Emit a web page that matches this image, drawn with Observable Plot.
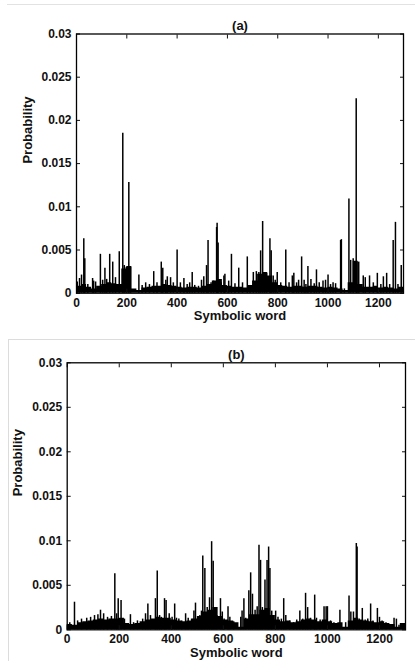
<!DOCTYPE html>
<html><head><meta charset="utf-8">
<script src="https://cdn.jsdelivr.net/npm/d3@7"></script>
<script src="https://cdn.jsdelivr.net/npm/@observablehq/plot@0.6"></script>
<style>
html,body{margin:0;padding:0;background:#fff;width:415px;height:661px;overflow:hidden;position:relative}
#a{position:absolute;left:0;top:0}
#b{position:absolute;left:0;top:339px}
.line-top{position:absolute;left:7px;top:4px;width:408px;height:0;border-top:1px solid #e2e2e2}
.box-b{position:absolute;left:8px;top:339px;width:407px;height:322px;border-top:1px solid #dcdcdc;border-left:1px solid #dcdcdc;box-sizing:border-box}
</style></head><body>
<div class="line-top"></div>
<div class="box-b"></div>
<div id="a"></div>
<div id="b"></div>
<script>
const xTicks = [0, 200, 400, 600, 800, 1000, 1200];
const xTickLabels = ["0", "200", "400", "600", "800", "1000", "1200"];
const yTicks = [0, 0.005, 0.01, 0.015, 0.02, 0.025, 0.03];
const yTickLabels = ["0", "0.005", "0.01", "0.015", "0.02", "0.025", "0.03"];

// background "floor" of the dense bars, read every 20 symbolic words
const baseX = [0,20,40,60,80,100,120,140,160,180,200,220,240,260,280,300,320,340,360,380,400,420,440,460,480,500,520,540,560,580,600,620,640,660,680,700,720,740,760,780,800,820,840,860,880,900,920,940,960,980,1000,1020,1040,1060,1080,1100,1120,1140,1160,1180,1200,1220,1240,1260,1280,1300];

const baseA = [0.0008,0.0010,0.0007,0.0005,0.0008,0.0010,0.0012,0.0011,0.0010,0.0028,0.0031,0.0005,0.0003,0.0006,0.0007,0.0008,0.0008,0.0010,0.0009,0.0008,0.0007,0.0006,0.0007,0.0007,0.0006,0.0008,0.0010,0.0014,0.0016,0.0009,0.0008,0.0007,0.0007,0.0006,0.0009,0.0014,0.0022,0.0024,0.0020,0.0012,0.0009,0.0008,0.0007,0.0008,0.0008,0.0007,0.0008,0.0008,0.0007,0.0006,0.0007,0.0006,0.0005,0.0003,0.0012,0.0037,0.0010,0.0007,0.0007,0.0008,0.0006,0.0007,0.0006,0.0005,0.0007,0.0007];

const spikeAX = [3,12,20,29,33,45,64,68,76,95,104,113,120,132,144,155,170,184,190,198,208,215,248,261,275,290,307,320,337,343,355,361,374,385,400,413,427,440,450,460,470,485,497,506,517,523,535,545,557,559,563,575,586,590,605,616,630,645,660,679,690,703,715,725,732,740,748,756,769,774,782,790,798,812,832,845,858,864,875,883,895,905,912,920,932,945,954,965,980,990,1000,1010,1020,1030,1050,1053,1065,1083,1090,1100,1112,1115,1122,1140,1148,1165,1180,1196,1210,1220,1233,1245,1259,1268,1278,1291];
const spikeAY = [0.0013,0.0017,0.0021,0.0063,0.0040,0.0010,0.0017,0.0014,0.0013,0.0045,0.0015,0.0029,0.0016,0.0045,0.0036,0.0018,0.0048,0.0185,0.0032,0.0030,0.0128,0.0030,0.0021,0.0009,0.0012,0.0010,0.0025,0.0012,0.0036,0.0029,0.0015,0.0019,0.0018,0.0012,0.0050,0.0012,0.0017,0.0010,0.0012,0.0024,0.0009,0.0008,0.0015,0.0019,0.0032,0.0061,0.0012,0.0014,0.0076,0.0081,0.0058,0.0012,0.0020,0.0022,0.0014,0.0045,0.0011,0.0029,0.0012,0.0042,0.0008,0.0024,0.0025,0.0024,0.0049,0.0083,0.0022,0.0023,0.0063,0.0049,0.0020,0.0015,0.0024,0.0012,0.0050,0.0012,0.0020,0.0023,0.0012,0.0015,0.0042,0.0015,0.0010,0.0031,0.0016,0.0011,0.0027,0.0012,0.0014,0.0015,0.0021,0.0010,0.0012,0.0011,0.0061,0.0062,0.0005,0.0109,0.0038,0.0040,0.0225,0.0036,0.0036,0.0020,0.0018,0.0020,0.0012,0.0023,0.0010,0.0019,0.0023,0.0010,0.0061,0.0082,0.0010,0.0032];

const baseB = [0.0006,0.0005,0.0008,0.0009,0.0010,0.0011,0.0012,0.0011,0.0012,0.0012,0.0013,0.0007,0.0006,0.0007,0.0009,0.0011,0.0012,0.0014,0.0013,0.0013,0.0011,0.0010,0.0009,0.0010,0.0012,0.0015,0.0020,0.0022,0.0025,0.0015,0.0011,0.0010,0.0008,0.0003,0.0012,0.0017,0.0017,0.0022,0.0024,0.0016,0.0011,0.0009,0.0010,0.0008,0.0009,0.0011,0.0012,0.0011,0.0009,0.0011,0.0009,0.0007,0.0008,0.0003,0.0010,0.0013,0.0011,0.0010,0.0009,0.0008,0.0009,0.0007,0.0006,0.0003,0.0007,0.0007];

const spikeBX = [10,28,40,55,75,90,105,118,128,140,155,170,183,190,196,207,220,243,255,270,290,301,310,320,339,346,355,362,374,380,392,403,413,420,429,440,455,465,478,487,493,503,510,516,521,529,538,547,555,561,568,575,589,596,603,618,625,640,660,667,672,679,686,698,705,712,722,730,737,743,750,760,768,774,779,786,801,810,823,832,840,855,870,882,894,905,916,924,935,951,958,972,987,995,1000,1012,1025,1048,1058,1070,1083,1090,1100,1111,1114,1122,1134,1145,1155,1166,1175,1192,1200,1210,1225,1240,1256,1265,1275,1290];
const spikeBY = [0.0008,0.0031,0.0010,0.0012,0.0013,0.0014,0.0016,0.0017,0.0022,0.0018,0.0014,0.0015,0.0063,0.0018,0.0035,0.0033,0.0012,0.0017,0.0008,0.0010,0.0012,0.0018,0.0029,0.0016,0.0035,0.0066,0.0016,0.0014,0.0035,0.0033,0.0018,0.0014,0.0029,0.0013,0.0012,0.0010,0.0018,0.0013,0.0012,0.0021,0.0030,0.0015,0.0016,0.0021,0.0083,0.0069,0.0025,0.0036,0.0099,0.0077,0.0023,0.0016,0.0035,0.0020,0.0012,0.0026,0.0014,0.0009,0.0002,0.0014,0.0021,0.0035,0.0013,0.0044,0.0064,0.0040,0.0022,0.0026,0.0095,0.0078,0.0025,0.0056,0.0078,0.0093,0.0069,0.0021,0.0021,0.0014,0.0012,0.0035,0.0016,0.0010,0.0008,0.0011,0.0021,0.0012,0.0041,0.0025,0.0013,0.0039,0.0013,0.0011,0.0026,0.0026,0.0026,0.0010,0.0008,0.0022,0.0002,0.0008,0.0038,0.0020,0.0020,0.0097,0.0093,0.0012,0.0024,0.0011,0.0012,0.0029,0.0010,0.0024,0.0014,0.0010,0.0008,0.0006,0.0013,0.0012,0.0005,0.0006];

const FONT = "'Liberation Sans', Arial, Helvetica, sans-serif";
const INK = "#111";

function panel({title, sx, sy, by, width, height, mt, mb, ml, mr}) {
  const spikes = sx.map((x, i) => ({x, y: sy[i]}));
  const base = baseX.map((x, i) => ({x, y: by[i]}));
  const yFmt = d => yTickLabels[yTicks.indexOf(d)];
  const xFmt = d => xTickLabels[xTicks.indexOf(d)];
  return Plot.plot({
    width, height, marginTop: mt, marginBottom: mb, marginLeft: ml, marginRight: mr,
    style: {fontFamily: FONT, fontSize: "12px", fontWeight: "bold", color: INK, background: "transparent", overflow: "visible"},
    x: {domain: [0, 1300]},
    y: {domain: [0, 0.03]},
    marks: [
      Plot.areaY(base, {x: "x", y: "y", curve: "step-after", fill: "#000"}),
      Plot.ruleX(spikes, {x: "x", y1: 0, y2: "y", stroke: "#000", strokeWidth: 1.5}),
      Plot.axisX(xTicks, {anchor: "bottom", tickSize: 0, tickPadding: 5, tickFormat: xFmt, label: null}),
      Plot.axisX(xTicks, {anchor: "bottom", tickSize: 4, dy: -4, tickFormat: () => "", label: null}),
      Plot.axisX(xTicks, {anchor: "top", tickSize: 4, dy: 4, tickFormat: () => "", label: null}),
      Plot.axisY(yTicks, {anchor: "left", tickSize: 0, tickPadding: 5, tickFormat: yFmt, label: null}),
      Plot.axisY(yTicks, {anchor: "left", tickSize: 4, dx: 4, tickFormat: () => "", label: null}),
      Plot.axisY(yTicks, {anchor: "right", tickSize: 4, dx: -4, tickFormat: () => "", label: null}),
      Plot.frame({stroke: "#000", strokeWidth: 1.3}),
      Plot.text([title], {text: d => d, frameAnchor: "top", dy: -13, fontSize: 13, fontWeight: "bold"}),
      Plot.text(["Probability"], {text: d => d, frameAnchor: "left", dx: -49, rotate: -90, fontSize: 13, fontWeight: "bold"}),
      Plot.text(["Symbolic word"], {text: d => d, frameAnchor: "bottom", dy: 27, fontSize: 13, fontWeight: "bold"})
    ]
  });
}

document.getElementById("a").append(panel({
  title: "(a)", sx: spikeAX, sy: spikeAY, by: baseA,
  width: 415, height: 330, mt: 33.5, mb: 37.3, ml: 76, mr: 12
}));
document.getElementById("b").append(panel({
  title: "(b)", sx: spikeBX, sy: spikeBY, by: baseB,
  width: 415, height: 322, mt: 23.3, mb: 31.7, ml: 66.7, mr: 10
}));
</script>
</body></html>
